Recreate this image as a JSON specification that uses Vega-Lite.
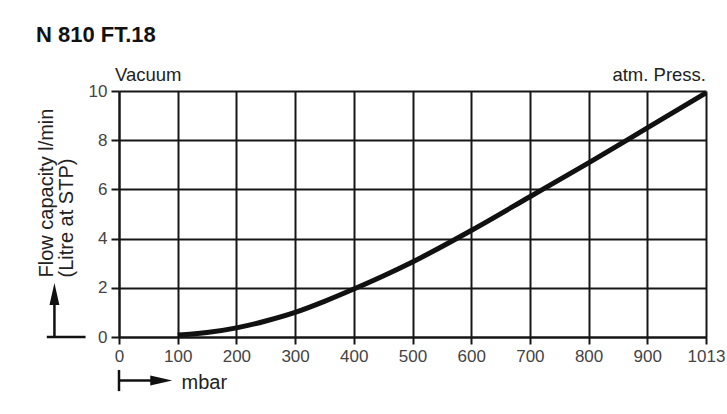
{
  "$schema": "https://vega.github.io/schema/vega-lite/v6.json",
  "width": 587,
  "height": 246,
  "autosize": "none",
  "padding": {"left": 119, "top": 91, "right": 21, "bottom": 77},
  "background": "white",
  "title": {
    "text": "N 810 FT.18",
    "anchor": "start",
    "frame": "group",
    "dx": -83,
    "offset": 2,
    "baseline": "alphabetic",
    "font": "Liberation Sans",
    "fontSize": 22,
    "fontWeight": "bold",
    "color": "#111111"
  },
  "config": {
    "view": {"stroke": null},
    "axis": {
      "grid": true,
      "gridColor": "#161616",
      "gridWidth": 2,
      "gridOpacity": 1,
      "domainColor": "#161616",
      "domainWidth": 2,
      "tickColor": "#161616",
      "tickWidth": 2,
      "labelFont": "Liberation Sans",
      "labelFontSize": 17,
      "labelColor": "#444444",
      "titleFont": "Liberation Sans",
      "titleFontWeight": "normal",
      "titleColor": "#222222"
    }
  },
  "datasets": {
    "curve": [
      {"mbar": 100, "flow": 0.08},
      {"mbar": 125, "flow": 0.12},
      {"mbar": 150, "flow": 0.18},
      {"mbar": 200, "flow": 0.37},
      {"mbar": 250, "flow": 0.65},
      {"mbar": 300, "flow": 1.0},
      {"mbar": 350, "flow": 1.45},
      {"mbar": 400, "flow": 1.95},
      {"mbar": 450, "flow": 2.48},
      {"mbar": 500, "flow": 3.05},
      {"mbar": 600, "flow": 4.33},
      {"mbar": 700, "flow": 5.7},
      {"mbar": 800, "flow": 7.08},
      {"mbar": 900, "flow": 8.5},
      {"mbar": 1013, "flow": 9.92}
    ],
    "one": [{}]
  },
  "layer": [
    {
      "data": {"name": "curve"},
      "mark": {"type": "line", "color": "#111111", "strokeWidth": 5, "interpolate": "monotone", "strokeCap": "butt"},
      "encoding": {
        "x": {
          "field": "mbar",
          "type": "quantitative",
          "scale": {"domain": [0, 900, 1013], "range": [0, 528.3, 587], "nice": false},
          "axis": {
            "values": [0, 100, 200, 300, 400, 500, 600, 700, 800, 900, 1013],
            "format": "d",
            "tickSize": 7,
            "labelPadding": 4,
            "labelFlush": false,
            "title": "mbar",
            "titleFontSize": 20,
            "titleX": 62,
            "titleY": 51,
            "titleAlign": "left",
            "titleBaseline": "alphabetic"
          }
        },
        "y": {
          "field": "flow",
          "type": "quantitative",
          "scale": {"domain": [0, 10], "nice": false},
          "axis": {
            "values": [0, 2, 4, 6, 8, 10],
            "tickSize": 8,
            "labelPadding": 4,
            "title": ["Flow capacity l/min", "(Litre at STP)"],
            "titleFontSize": 20,
            "titleLineHeight": 20,
            "titleAngle": 270,
            "titleX": -67,
            "titleY": 186,
            "titleAlign": "left",
            "titleBaseline": "alphabetic"
          }
        }
      }
    },
    {
      "data": {"name": "one"},
      "mark": {"type": "text", "text": "Vacuum", "align": "left", "baseline": "alphabetic", "dx": -4, "dy": -10, "font": "Liberation Sans", "fontSize": 18.5, "color": "#222222"},
      "encoding": {"x": {"datum": 0}, "y": {"datum": 10}}
    },
    {
      "data": {"name": "one"},
      "mark": {"type": "text", "text": "atm. Press.", "align": "right", "baseline": "alphabetic", "dx": 0, "dy": -10, "font": "Liberation Sans", "fontSize": 18.5, "color": "#222222"},
      "encoding": {"x": {"datum": 1013}, "y": {"datum": 10}}
    },
    {
      "data": {"name": "one"},
      "mark": {"type": "rule", "color": "#111111", "strokeWidth": 2.5},
      "encoding": {"x": {"datum": 0}, "y": {"datum": -1.34}, "y2": {"datum": -2.2}}
    },
    {
      "data": {"name": "one"},
      "mark": {"type": "rule", "color": "#111111", "strokeWidth": 2.5},
      "encoding": {"x": {"datum": 0}, "x2": {"datum": 68}, "y": {"datum": -1.77}}
    },
    {
      "data": {"name": "one"},
      "mark": {"type": "point", "filled": true, "color": "#111111", "opacity": 1, "shape": "M-1,-0.45L1,0L-1,0.45Z", "size": 484},
      "encoding": {"x": {"datum": 72}, "y": {"datum": -1.77}}
    },
    {
      "data": {"name": "one"},
      "mark": {"type": "rule", "color": "#111111", "strokeWidth": 2.5},
      "encoding": {"x": {"datum": -110}, "y": {"datum": 0}, "y2": {"datum": 1.6}}
    },
    {
      "data": {"name": "one"},
      "mark": {"type": "rule", "color": "#111111", "strokeWidth": 2.5},
      "encoding": {"x": {"datum": -123}, "x2": {"datum": -57}, "y": {"datum": 0}}
    },
    {
      "data": {"name": "one"},
      "mark": {"type": "point", "filled": true, "color": "#111111", "opacity": 1, "shape": "M-0.45,1L0,-1L0.45,1Z", "size": 484},
      "encoding": {"x": {"datum": -110}, "y": {"datum": 1.75}}
    }
  ]
}
